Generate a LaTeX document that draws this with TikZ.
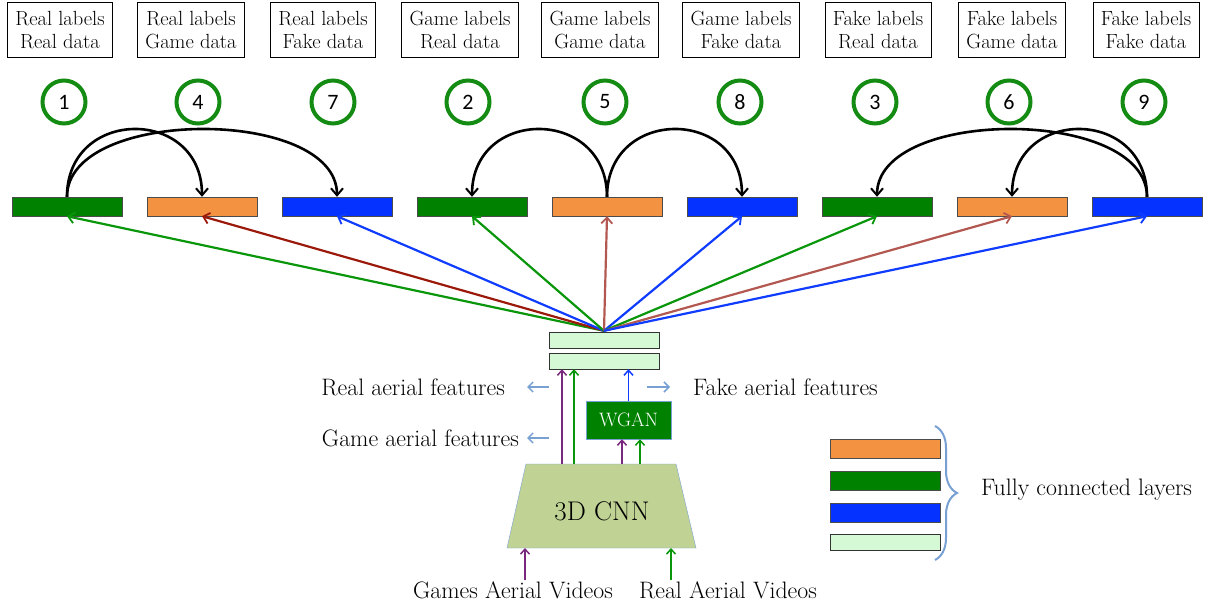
\documentclass[tikz,border=0pt]{standalone}
\usepackage{fontspec}
\newfontfamily\numfont{Carlito}
\usetikzlibrary{arrows.meta,decorations.pathreplacing,calc}
\definecolor{fcgreen}{RGB}{0,130,0}
\definecolor{fcorange}{RGB}{243,146,65}
\definecolor{fcblue}{RGB}{5,50,255}
\definecolor{fclight}{RGB}{213,249,213}
\definecolor{argreen}{RGB}{10,150,10}
\definecolor{ardred}{RGB}{155,25,10}
\definecolor{arbrown}{RGB}{178,88,80}
\definecolor{arblue}{RGB}{15,60,255}
\definecolor{arpurple}{RGB}{120,40,125}
\definecolor{ltblue}{RGB}{120,160,210}
\definecolor{cnnfill}{RGB}{192,211,148}
\definecolor{circgreen}{RGB}{20,140,20}
\begin{document}
\begin{tikzpicture}[x=1pt,y=-1pt,
  lbox/.style={draw,thin,align=center,inner xsep=8pt,minimum height=55pt,
    font=\fontsize{20.5}{22.5}\selectfont},
  numc/.style={circle,draw=circgreen,line width=4pt,minimum size=43pt,inner sep=0pt,
    font=\numfont\fontsize{22}{22}\selectfont},
  fcbar/.style={draw=black!70,thin,minimum width=110pt,minimum height=19pt,inner sep=0pt},
  smbar/.style={draw=black!80,thin,fill=fclight,minimum width=110pt,minimum height=16pt,inner sep=0pt},
  arc/.style={line width=2.6pt,-{Straight Barb[length=7pt,width=12pt,line width=2pt]}},
  col/.style={line width=2.2pt,draw=#1,-{Straight Barb[length=6pt,width=11pt,line width=1.8pt]}},
  vup/.style={line width=1.8pt,draw=#1,-{Straight Barb[length=5pt,width=9pt,line width=1.5pt]}},
  feat/.style={line width=1.8pt,draw=ltblue,-{Straight Barb[length=5pt,width=10pt,line width=1.5pt]}},
  txt/.style={font=\fontsize{23.8}{26}\selectfont,inner sep=0pt}
]
\useasboundingbox (0,0) rectangle (1210,608);

% top label boxes
\node[lbox] (L1) at (60,30) {Real labels\\Real data};
\node[lbox] (L2) at (191,30) {Real labels\\Game data};
\node[lbox] (L3) at (323,30) {Real labels\\Fake data};
\node[lbox] (L4) at (460,30) {Game labels\\Real data};
\node[lbox] (L5) at (600,30) {Game labels\\Game data};
\node[lbox] (L6) at (741,30) {Game labels\\Fake data};
\node[lbox] (L7) at (878,30) {Fake labels\\Real data};
\node[lbox] (L8) at (1012,30) {Fake labels\\Game data};
\node[lbox] (L9) at (1146,30) {Fake labels\\Fake data};

% number circles
\node[numc] (c1) at (64,102) {1};
\node[numc] (c4) at (198,102) {4};
\node[numc] (c7) at (333,102) {7};
\node[numc] (c2) at (468,102) {2};
\node[numc] (c5) at (605,102) {5};
\node[numc] (c8) at (740,102) {8};
\node[numc] (c3) at (875,102) {3};
\node[numc] (c6) at (1009,102) {6};
\node[numc] (c9) at (1144,102) {9};

% fully connected bars
\node[fcbar,fill=fcgreen]  (b1) at (67,206.5) {};
\node[fcbar,fill=fcorange] (b2) at (202,206.5) {};
\node[fcbar,fill=fcblue]   (b3) at (337,206.5) {};
\node[fcbar,fill=fcgreen]  (b4) at (472,206.5) {};
\node[fcbar,fill=fcorange] (b5) at (607,206.5) {};
\node[fcbar,fill=fcblue]   (b6) at (742,206.5) {};
\node[fcbar,fill=fcgreen]  (b7) at (877,206.5) {};
\node[fcbar,fill=fcorange] (b8) at (1012,206.5) {};
\node[fcbar,fill=fcblue]   (b9) at (1147,206.5) {};

% black arcs
\draw[arc] (b1.north) .. controls ($(b1.north)+(0,-90)$) and ($(b2.north)+(0,-90)$) .. (b2.north);
\draw[arc] (b1.north) .. controls ($(b1.north)+(0,-90)$) and ($(b3.north)+(0,-90)$) .. (b3.north);
\draw[arc] (b5.north) .. controls ($(b5.north)+(0,-90)$) and ($(b4.north)+(0,-90)$) .. (b4.north);
\draw[arc] (b5.north) .. controls ($(b5.north)+(0,-90)$) and ($(b6.north)+(0,-90)$) .. (b6.north);
\draw[arc] (b9.north) .. controls ($(b9.north)+(0,-90)$) and ($(b7.north)+(0,-90)$) .. (b7.north);
\draw[arc] (b9.north) .. controls ($(b9.north)+(0,-90)$) and ($(b8.north)+(0,-90)$) .. (b8.north);

% small light bars
\node[smbar] (fc1) at (604,340) {};
\node[smbar] (fc2) at (604,361) {};
\coordinate (hub) at ($(fc1.north)+(0,-1)$);

% coloured arrows
\draw[col=argreen] (hub) -- (b1.south);
\draw[col=ardred]  (hub) -- (b2.south);
\draw[col=arblue]  (hub) -- (b3.south);
\draw[col=argreen] (hub) -- (b4.south);
\draw[col=arbrown] (hub) -- (b5.south);
\draw[col=arblue]  (hub) -- (b6.south);
\draw[col=argreen] (hub) -- (b7.south);
\draw[col=arbrown] (hub) -- (b8.south);
\draw[col=arblue]  (hub) -- (b9.south);

% 3D CNN
\coordinate (tl) at (526,464);
\coordinate (tr) at (676,464);
\coordinate (br) at (696,548);
\coordinate (bl) at (507,548);
\draw[draw=ltblue,thin,fill=cnnfill] (tl) -- (tr) -- (br) -- (bl) -- cycle;
\node[font=\fontsize{27}{30}\selectfont] (cnn) at (602,511) {3D CNN};

% WGAN
\node[draw=ltblue,thin,fill=fcgreen,text=white,minimum width=85pt,minimum height=38pt,
  inner sep=0pt,font=\fontsize{19.4}{20}\selectfont] (wgan) at (628.5,420) {WGAN};

% vertical arrows
\coordinate (p1) at (562,464);
\coordinate (g1) at (574,464);
\coordinate (p2) at (622,464);
\coordinate (g2) at (640,464);
\draw[vup=arpurple] (p1) -- (p1 |- fc2.south);
\draw[vup=argreen]  (g1) -- (g1 |- fc2.south);
\draw[vup=arpurple] (p2) -- (p2 |- wgan.south);
\draw[vup=argreen]  (g2) -- (g2 |- wgan.south);
\draw[vup=arblue] (wgan.north) -- (wgan.north |- fc2.south);

% input arrows
\coordinate (ip) at (525,580);
\coordinate (ig) at (671,580);
\draw[vup=arpurple] (ip) -- (ip |- bl);
\draw[vup=argreen]  (ig) -- (ig |- bl);
\node[txt] (gv) at (513,590) {Games Aerial Videos};
\node[txt] (rv) at (728,590) {Real Aerial Videos};

% feature labels
\node[txt,anchor=east] (rf) at (505,387) {Real aerial features};
\node[txt,anchor=east] (gf) at (519,438) {Game aerial features};
\node[txt,anchor=west] (ff) at (693,387) {Fake aerial features};
\coordinate (rfa) at (549,387);
\coordinate (gfa) at (549,438);
\coordinate (ffa) at (647,387);
\draw[feat] (rfa) -- ($(rf.east)+(22,0)$);
\draw[feat] (gfa) -- ($(gf.east)+(8,0)$);
\draw[feat] (ffa) -- ($(ff.west)+(-23,0)$);

% legend
\node[fcbar,fill=fcorange] (lg1) at (885,448.5) {};
\node[fcbar,fill=fcgreen]  (lg2) at (885,480.5) {};
\node[fcbar,fill=fcblue]   (lg3) at (885,512.5) {};
\node[smbar] (lg4) at (885,542.5) {};
\coordinate (brt) at (935,426);
\coordinate (brb) at (935,560);
\draw[ltblue,line width=2pt,decorate,decoration={brace,amplitude=22pt,aspect=0.5}] (brt) -- (brb);
\node[txt,anchor=west] (fcl) at (981,490) {Fully connected layers};
\end{tikzpicture}
\end{document}
